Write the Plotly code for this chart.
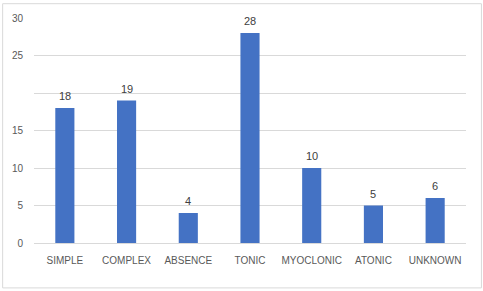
import plotly.graph_objects as go

categories = ["SIMPLE", "COMPLEX", "ABSENCE", "TONIC", "MYOCLONIC", "ATONIC", "UNKNOWN"]
values = [18, 19, 4, 28, 10, 5, 6]
y_tick_vals = [0, 5, 10, 15, 20, 25, 30]
y_tick_text = ["0", "5", "10", "15", "", "25", "30"]

fig = go.Figure(go.Bar(
    x=categories, y=values, width=0.31,
    marker=dict(color="#4472C4", line=dict(width=0)),
))

for c, v in zip(categories, values):
    fig.add_annotation(x=c, y=v, text=str(v), showarrow=False, yanchor="middle",
                       yshift=12, font=dict(family="Liberation Sans", size=11, color="#404040"))

L, R, T, B = 32, 17, 15, 48
W, H = 483, 291
pw, ph = W - L - R, H - T - B
fig.update_layout(
    width=W, height=H,
    margin=dict(l=L, r=R, t=T, b=B),
    paper_bgcolor="white", plot_bgcolor="white",
    showlegend=False,
    xaxis=dict(showgrid=False, showline=True, linecolor="#d9d9d9", linewidth=1,
               tickfont=dict(family="Liberation Sans", size=10, color="#595959"),
               ticks="", ticklabelstandoff=8),
    yaxis=dict(range=[0, 30], tickvals=y_tick_vals, ticktext=y_tick_text,
               showgrid=True, gridcolor="#d9d9d9", gridwidth=1,
               zeroline=False, showline=False, ticks="",
               tickfont=dict(family="Liberation Sans", size=10, color="#595959"),
               ticklabelstandoff=10),
    shapes=[dict(type="rect", xref="paper", yref="paper",
                 x0=(0.5 - L) / pw, x1=(W - 1.5 - L) / pw,
                 y0=(H - B - (H - 2.5)) / ph, y1=(H - B - 0.5) / ph,
                 line=dict(color="#d9d9d9", width=1), fillcolor="rgba(0,0,0,0)")],
)

fig.write_html("out.html")
